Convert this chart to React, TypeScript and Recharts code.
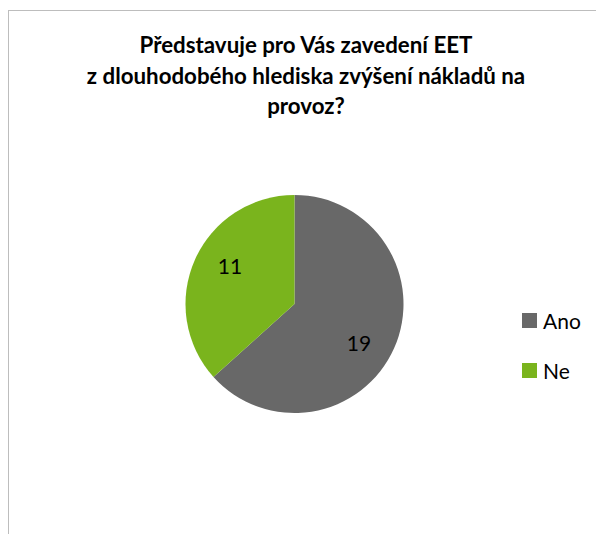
import { PieChart, Pie, Cell, Legend } from "recharts";

const categories = ["Ano", "Ne"];
const counts = [19, 11];
const colors = ["#686868", "#7ab41d"];

const data = categories.map((name, i) => ({ name, value: counts[i] }));

const RAD = Math.PI / 180;

function SliceLabel(props: any) {
  const { cx, cy, midAngle, outerRadius, value } = props;
  const r = outerRadius * 0.69;
  const a = (midAngle - 7) * RAD;
  const x = cx + r * Math.cos(-a);
  const y = cy + r * Math.sin(-a);
  return (
    <text x={x} y={y} textAnchor="middle" dominantBaseline="central" fill="#000" fontSize={21} fontFamily="Lato, 'Open Sans', sans-serif">
      {value}
    </text>
  );
}

function LegendBox() {
  return (
    <div style={{ fontFamily: "Lato, 'Open Sans', sans-serif", fontSize: 21, color: "#000" }}>
      {data.map((d, i) => (
        <div key={d.name} style={{ display: "flex", alignItems: "center", height: 50 }}>
          <span style={{ width: 15, height: 15, background: colors[i], display: "inline-block", marginRight: 6 }} />
          {d.name}
        </div>
      ))}
    </div>
  );
}

export default function App() {
  return (
    <div style={{ position: "relative", width: 596, height: 526, overflow: "hidden", background: "#fff" }}>
      <div style={{ position: "absolute", left: 0, top: 2, width: 700, height: 700, borderLeft: "1px solid #bdbdbd", borderTop: "1px solid #bdbdbd" }} />
      <div
        style={{
          position: "absolute",
          left: -4,
          top: 22,
          width: 604,
          textAlign: "center",
          fontFamily: "Lato, 'Open Sans', sans-serif",
          fontWeight: 700,
          fontSize: 22.3,
          lineHeight: "30.5px",
          color: "#000",
        }}
      >
        Představuje pro Vás zavedení EET
        <br />
        z dlouhodobého hlediska zvýšení nákladů na
        <br />
        provoz?
      </div>
      <div style={{ position: "absolute", left: 0, top: 0 }}>
        <PieChart width={596} height={526}>
          <Pie
            data={data}
            dataKey="value"
            nameKey="name"
            cx={281.5}
            cy={291}
            outerRadius={109}
            startAngle={90}
            endAngle={-270}
            stroke="none"
            label={SliceLabel}
            labelLine={false}
            isAnimationActive={false}
          >
            {data.map((d, i) => (
              <Cell key={d.name} fill={colors[i]} />
            ))}
          </Pie>
          <Legend
            layout="vertical"
            content={() => <LegendBox />}
            wrapperStyle={{ position: "absolute", left: 514, top: 287, width: 80 }}
          />
        </PieChart>
      </div>
    </div>
  );
}
